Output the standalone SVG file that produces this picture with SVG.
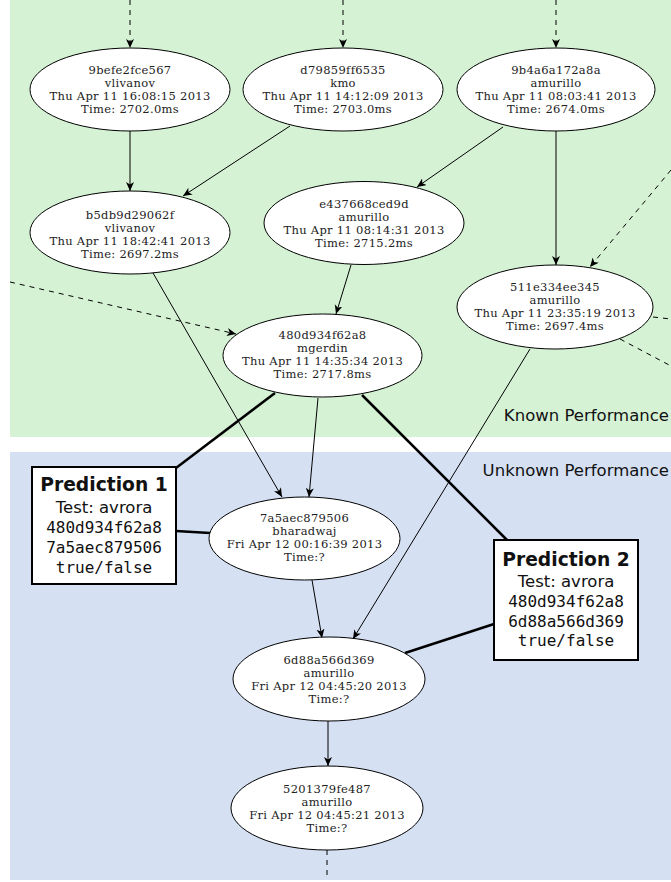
<svg xmlns="http://www.w3.org/2000/svg" width="671" height="882" viewBox="0 0 671 882">
<defs>
<marker id="ah" markerUnits="userSpaceOnUse" markerWidth="10" markerHeight="10" refX="9" refY="4" orient="auto">
<path d="M0,0 L9,4 L0,8 L2.5,4 Z" fill="#000"/>
</marker>
<style>
.n ellipse{fill:#fff;stroke:#000;stroke-width:1}
.n text{font-family:"DejaVu Serif",serif;font-size:11.5px;letter-spacing:0.3px;fill:#222;text-anchor:middle}
.e{stroke:#000;stroke-width:1;fill:none;marker-end:url(#ah)}
.d{stroke:#000;stroke-width:1;fill:none;stroke-dasharray:5,5}
.da{stroke:#000;stroke-width:1;fill:none;stroke-dasharray:5,5;marker-end:url(#ah)}
.t{stroke:#000;stroke-width:2.5;fill:none}
.p rect{fill:#fff;stroke:#000;stroke-width:2}
.p text{text-anchor:middle;fill:#111}
.pt{font-family:"DejaVu Sans",sans-serif;font-size:18.7px;font-weight:bold}
.ps{font-family:"DejaVu Sans",sans-serif;font-size:16.5px}
.pm{font-family:"DejaVu Sans Mono",monospace;font-size:16px}
.lab{font-family:"DejaVu Sans",sans-serif;font-size:16.5px;fill:#111;text-anchor:end}
</style>
</defs>
<rect id="known" x="10" y="0" width="661" height="437" fill="#d5f2d5"/>
<rect id="unknown" x="10" y="452" width="661" height="428" fill="#d5e0f3"/>
<text class="lab" x="669" y="421">Known Performance</text>
<text class="lab" x="669" y="476">Unknown Performance</text>
<g id="connectors">
<line class="da" x1="130" y1="0" x2="130" y2="48"/>
<line class="da" x1="343" y1="0" x2="343" y2="48"/>
<line class="da" x1="556" y1="0" x2="556" y2="48"/>
<line class="e" x1="130" y1="131" x2="130" y2="191"/>
<line class="e" x1="290" y1="126" x2="183" y2="196"/>
<line class="e" x1="503" y1="127" x2="417" y2="187"/>
<line class="e" x1="556" y1="131" x2="556" y2="265"/>
<line class="e" x1="351" y1="265" x2="336" y2="314"/>
<line class="da" x1="671" y1="170" x2="590" y2="267"/>
<line class="d" x1="653" y1="317" x2="671" y2="319"/>
<line class="d" x1="620" y1="339" x2="671" y2="366"/>
<line class="da" x1="10" y1="282" x2="236" y2="334"/>
<line class="e" x1="153" y1="273" x2="282" y2="497"/>
<line class="e" x1="318" y1="398" x2="309" y2="497"/>
<line class="e" x1="530" y1="349" x2="353" y2="639"/>
<line class="e" x1="312" y1="580" x2="322" y2="638"/>
<line class="e" x1="328" y1="721" x2="328" y2="766"/>
<line class="d" x1="327" y1="850" x2="327" y2="880"/>
<line class="t" x1="275" y1="393" x2="176" y2="468"/>
<line class="t" x1="176" y1="531" x2="210" y2="533"/>
<line class="t" x1="362" y1="395" x2="507" y2="540"/>
<line class="t" x1="494" y1="624" x2="405" y2="653"/>
</g>
<g id="n9befe2fce567" class="n">
<ellipse cx="130" cy="89.5" rx="100" ry="41.5"/>
<text x="130" y="74">9befe2fce567</text>
<text x="130" y="87">vlivanov</text>
<text x="130" y="100">Thu Apr 11 16:08:15 2013</text>
<text x="130" y="113">Time: 2702.0ms</text>
</g>
<g id="nd79859ff6535" class="n">
<ellipse cx="343" cy="89.5" rx="100" ry="41.5"/>
<text x="343" y="74">d79859ff6535</text>
<text x="343" y="87">kmo</text>
<text x="343" y="100">Thu Apr 11 14:12:09 2013</text>
<text x="343" y="113">Time: 2703.0ms</text>
</g>
<g id="n9b4a6a172a8a" class="n">
<ellipse cx="556" cy="89.5" rx="99" ry="41.5"/>
<text x="556" y="74">9b4a6a172a8a</text>
<text x="556" y="87">amurillo</text>
<text x="556" y="100">Thu Apr 11 08:03:41 2013</text>
<text x="556" y="113">Time: 2674.0ms</text>
</g>
<g id="nb5db9d29062f" class="n">
<ellipse cx="130" cy="232.5" rx="100" ry="41.5"/>
<text x="130" y="219">b5db9d29062f</text>
<text x="130" y="232">vlivanov</text>
<text x="130" y="245">Thu Apr 11 18:42:41 2013</text>
<text x="130" y="258">Time: 2697.2ms</text>
</g>
<g id="ne437668ced9d" class="n">
<ellipse cx="364" cy="223" rx="100" ry="41.5"/>
<text x="364" y="208">e437668ced9d</text>
<text x="364" y="221">amurillo</text>
<text x="364" y="234">Thu Apr 11 08:14:31 2013</text>
<text x="364" y="247">Time: 2715.2ms</text>
</g>
<g id="n511e334ee345" class="n">
<ellipse cx="555" cy="307" rx="98" ry="42"/>
<text x="555" y="291">511e334ee345</text>
<text x="555" y="304">amurillo</text>
<text x="555" y="317">Thu Apr 11 23:35:19 2013</text>
<text x="555" y="330">Time: 2697.4ms</text>
</g>
<g id="n480d934f62a8" class="n">
<ellipse cx="322.5" cy="355.5" rx="99.5" ry="41.5"/>
<text x="322.5" y="339">480d934f62a8</text>
<text x="322.5" y="352">mgerdin</text>
<text x="322.5" y="365">Thu Apr 11 14:35:34 2013</text>
<text x="322.5" y="378">Time: 2717.8ms</text>
</g>
<g id="n7a5aec879506" class="n">
<ellipse cx="304.5" cy="538.5" rx="95.5" ry="41.5"/>
<text x="304.5" y="522">7a5aec879506</text>
<text x="304.5" y="535">bharadwaj</text>
<text x="304.5" y="548">Fri Apr 12 00:16:39 2013</text>
<text x="304.5" y="561">Time:?</text>
</g>
<g id="n6d88a566d369" class="n">
<ellipse cx="329" cy="679" rx="96" ry="42"/>
<text x="329" y="664">6d88a566d369</text>
<text x="329" y="677">amurillo</text>
<text x="329" y="690">Fri Apr 12 04:45:20 2013</text>
<text x="329" y="703">Time:?</text>
</g>
<g id="n5201379fe487" class="n">
<ellipse cx="327" cy="808" rx="96" ry="42"/>
<text x="327" y="793">5201379fe487</text>
<text x="327" y="806">amurillo</text>
<text x="327" y="819">Fri Apr 12 04:45:21 2013</text>
<text x="327" y="832">Time:?</text>
</g>
<g id="prediction1" class="p">
<rect x="32" y="467" width="144" height="117"/>
<text class="pt" x="104" y="491">Prediction 1</text>
<text class="ps" x="104" y="513">Test: avrora</text>
<text class="pm" x="104" y="533">480d934f62a8</text>
<text class="pm" x="104" y="553">7a5aec879506</text>
<text class="pm" x="104" y="573">true/false</text>
</g>
<g id="prediction2" class="p">
<rect x="494" y="540" width="144" height="120"/>
<text class="pt" x="566" y="566">Prediction 2</text>
<text class="ps" x="566" y="587">Test: avrora</text>
<text class="pm" x="566" y="607">480d934f62a8</text>
<text class="pm" x="566" y="627">6d88a566d369</text>
<text class="pm" x="566" y="646">true/false</text>
</g>
</svg>
